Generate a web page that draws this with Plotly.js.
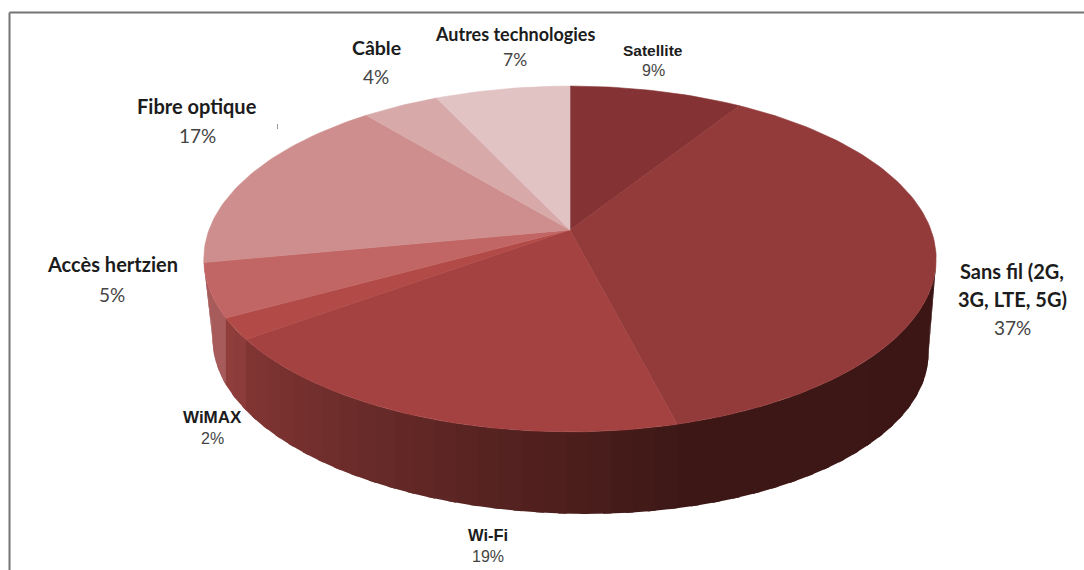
<!DOCTYPE html>
<html>
<head>
<meta charset="utf-8">
<script src="https://cdn.plot.ly/plotly-3.0.1.min.js"></script>
<style>html,body{margin:0;padding:0;background:#fff}#chart{width:1084px;height:570px}</style>
</head>
<body>
<div id="chart"></div>
<script>
// Shares, clockwise from twelve o'clock
const categories = ["Satellite", "Sans fil (2G, 3G, LTE, 5G)", "Wi-Fi", "WiMAX", "Accès hertzien", "Fibre optique", "Câble", "Autres technologies"];
const values = [9, 37, 19, 2, 5, 17, 4, 7];

// Face colour of each slice, and wall colour at each slice's clockwise start and end
const faceColors = ["#843233", "#933b3b", "#a44241", "#b24b47", "#c26665", "#ce8e8d", "#d8a9a9", "#e2c3c4"];
const wallFrom = ["#3b1514", "#3b1514", "#3e1816", "#8a3b39", "#a85b5b", "#a85b5b", "#a85b5b", "#a85b5b"];
const wallTo = ["#3b1514", "#3d1715", "#823634", "#923f3d", "#a85b5b", "#a85b5b", "#a85b5b", "#a85b5b"];

// Label rows: text, centre
const nameRows = [
  [["Satellite", 653, 50]],
  [["Sans fil (2G,", 1012, 271], ["3G, LTE, 5G)", 1012, 299]],
  [["Wi-Fi", 488, 535]],
  [["WiMAX", 212, 417]],
  [["Accès hertzien", 112, 264]],
  [["Fibre optique", 197, 106]],
  [["Câble", 376, 47]],
  [["Autres technologies", 515, 34]]
];
const percentPlaces = [[653, 70], [1012, 327], [488, 556], [212, 438], [112, 294], [197, 135], [376, 76], [515, 59]];
const labelFamilies = ["Liberation Sans", "Lato", "Liberation Sans", "Liberation Sans", "Lato", "Lato", "Lato", "Lato"];
const nameSizes = [15.5, 20, 16.5, 17, 20, 20, 19.5, 18];
const percentSizes = [16, 19, 16, 16, 19, 19, 19, 17.5];

// Projection of the tilted disc: the far rim is compressed, the near rim enlarged
const tilt = 0.1676;
const topDisc = {cx: 570, cy: 230, rx: 361, ry: 168, skew: 0};
const baseDisc = {cx: 570.5, cy: 318, rx: 353, ry: 163, skew: 7};
// Turns at which the rim reaches its left and right extremes
const wallStart = 0.277, wallEnd = 0.723;

function rim(disc, turn) {
  const a = turn * 2 * Math.PI, u = Math.sin(a), v = -Math.cos(a), d = 1 - tilt * v;
  return [disc.cx + disc.rx * u / d, disc.cy + (disc.ry * v + disc.skew * u) / d];
}
// Point of the base rim straight below a point of the top rim
function baseBelow(x) {
  let lo = wallStart, hi = wallEnd;
  if (x >= rim(baseDisc, lo)[0]) return rim(baseDisc, lo);
  if (x <= rim(baseDisc, hi)[0]) return rim(baseDisc, hi);
  for (let n = 0; n < 40; n++) {
    const m = (lo + hi) / 2;
    if (rim(baseDisc, m)[0] > x) lo = m; else hi = m;
  }
  return rim(baseDisc, (lo + hi) / 2);
}
function mix(c1, c2, f) {
  const p = c => [1, 3, 5].map(i => parseInt(c.substr(i, 2), 16));
  const a = p(c1), b = p(c2);
  return "rgb(" + a.map((x, i) => Math.round(x + (b[i] - x) * f)).join(",") + ")";
}
function polygon(points, color, lineWidth) {
  return {
    type: "scatter", mode: "lines", fill: "toself", fillcolor: color,
    x: points.map(p => p[0]), y: points.map(p => p[1]),
    line: {color: color, width: lineWidth}, hoverinfo: "skip", showlegend: false
  };
}

const total = values.reduce((s, v) => s + v, 0);
const walls = [], faces = [];
let cum = 0;
values.forEach((val, i) => {
  const start = cum / total, end = (cum + val) / total;
  // Wall: narrow bands, each running slightly under the next, so the shade follows the rim
  const bands = Math.max(2, Math.round(val * 1.2));
  for (let b = 0; b < bands; b++) {
    const t0 = Math.max(wallStart, start + (end - start) * b / bands);
    const t1 = Math.min(wallEnd, start + (end - start) * (b + 1) / bands + 0.003);
    if (t1 <= t0) continue;
    const edge = [];
    for (let s = 0; s <= 4; s++) edge.push(rim(topDisc, t0 + (t1 - t0) * s / 4));
    const under = edge.slice().reverse().map(p => baseBelow(p[0]));
    walls.push(polygon(edge.concat(under, [edge[0]]), mix(wallFrom[i], wallTo[i], (b + 0.5) / bands), 0));
  }
  // Top face: wedge from the apex along the rim
  const pts = [[topDisc.cx, topDisc.cy]];
  const steps = Math.max(6, val * 3);
  for (let s = 0; s <= steps; s++) pts.push(rim(topDisc, start + (end - start) * s / steps));
  pts.push([topDisc.cx, topDisc.cy]);
  faces.push(polygon(pts, faceColors[i], 0.6));
  cum += val;
});

const annotations = [];
function addLabel(text, x, y, font) {
  annotations.push({text: text, x: x, y: y, xref: "x", yref: "y", showarrow: false,
    xanchor: "center", yanchor: "middle", font: font});
}
categories.forEach((name, i) => {
  nameRows[i].forEach(r => addLabel("<b>" + r[0] + "</b>", r[1], r[2],
    {family: labelFamilies[i], size: nameSizes[i], color: "#1c1c1c"}));
  addLabel(values[i] + "%", percentPlaces[i][0], percentPlaces[i][1],
    {family: labelFamilies[i], size: percentSizes[i], color: "#444444"});
});

const layout = {
  width: 1084, height: 570, margin: {l: 0, r: 0, t: 0, b: 0},
  paper_bgcolor: "#ffffff", plot_bgcolor: "#ffffff", showlegend: false,
  xaxis: {range: [0, 1084], visible: false, fixedrange: true},
  yaxis: {range: [570, 0], visible: false, fixedrange: true},
  annotations: annotations,
  shapes: [
    // Frame open on the right and bottom
    {type: "line", xref: "x", yref: "y", x0: 9.5, x1: 1084, y0: 12.5, y1: 12.5, line: {color: "#757575", width: 2}},
    {type: "line", xref: "x", yref: "y", x0: 9.5, x1: 9.5, y0: 12.5, y1: 570, line: {color: "#757575", width: 2}},
    {type: "line", xref: "x", yref: "y", x0: 277.5, x1: 277.5, y0: 124, y1: 129, line: {color: "#999999", width: 1}}
  ]
};
Plotly.newPlot("chart", walls.concat(faces), layout, {displayModeBar: false, staticPlot: true});
</script>
</body>
</html>
